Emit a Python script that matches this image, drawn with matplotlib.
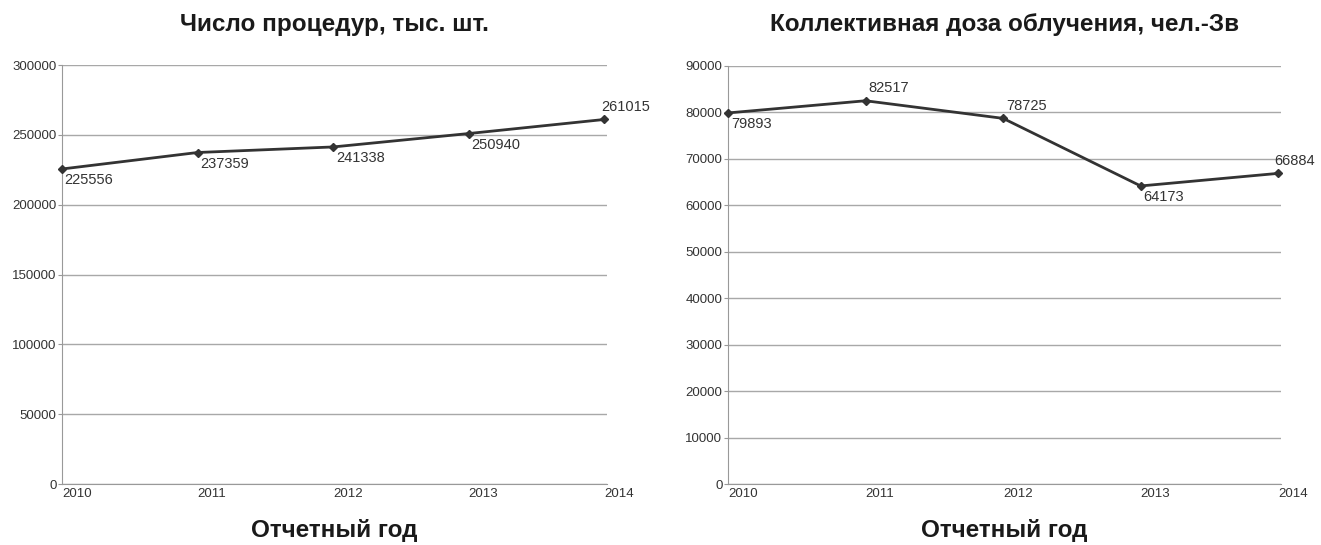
import numpy as np
import matplotlib.pyplot as plt

## data
years = ['2010', '2011', '2012', '2013', '2014']
procedures = [225556, 237359, 241338, 250940, 261015]
doses = [79893, 82517, 78725, 64173, 66884]

title_left = 'Число процедур, тыс. шт.'
title_right = 'Коллективная доза облучения, чел.-Зв'
xlabel = 'Отчетный год'

plt.rcParams['font.family'] = ['Liberation Sans', 'DejaVu Sans']

fig = plt.figure(figsize=(13.21, 5.45), dpi=100)
ax1 = fig.add_axes([0.0469, 0.1119, 0.4126, 0.7688])
ax2 = fig.add_axes([0.5511, 0.1119, 0.4186, 0.7670])

## label offsets (points) for each data label
offs_left = [(2, -13), (2, -13), (2, -13), (2, -13), (-2, 4)]
offs_right = [(2, -13), (2, 4), (2, 4), (2, -13), (-3, 4)]


def draw(ax, vals, ymax, step, offs, title):
    x = np.arange(len(vals))
    ax.plot(x, vals, color='#333333', lw=2, marker='D', ms=4.5,
            mfc='#333333', mec='#333333', clip_on=False, zorder=3)
    for xi, v, o in zip(x, vals, offs):
        ax.annotate(str(v), (xi, v), xytext=o, textcoords='offset points',
                    fontsize=10.5, color='#333333', ha='left', va='bottom')
    ax.set_xlim(0, len(vals) - 1 + 0.02)
    ax.set_ylim(0, ymax)
    ax.set_yticks(np.arange(0, ymax + 1, step))
    ax.set_yticklabels([str(int(t)) for t in np.arange(0, ymax + 1, step)])
    ax.set_xticks(x)
    ax.set_xticklabels(years, ha='left')
    ax.grid(axis='y', color='#a8a8a8', lw=1)
    ax.set_axisbelow(True)
    for s in ['top', 'right']:
        ax.spines[s].set_visible(False)
    for s in ['left', 'bottom']:
        ax.spines[s].set_color('#999999')
    ax.tick_params(axis='y', length=3, color='#999999', labelsize=9.5,
                   labelcolor='#333333', pad=1)
    ax.tick_params(axis='x', length=0, labelsize=9.5, labelcolor='#333333', pad=3)
    # centre texts on the axes box
    pos = ax.get_position()
    cx = (pos.x0 + pos.x1) / 2
    fig.text(cx, 1 - 25 / 545, title, fontsize=17.5, fontweight='bold',
             ha='center', va='center', color='#1a1a1a')
    fig.text(cx, 1 - 530 / 545, xlabel, fontsize=17.5, fontweight='bold',
             ha='center', va='center', color='#1a1a1a')


draw(ax1, procedures, 300000, 50000, offs_left, title_left)
draw(ax2, doses, 90000, 10000, offs_right, title_right)

plt.savefig('out.png', dpi=100)
